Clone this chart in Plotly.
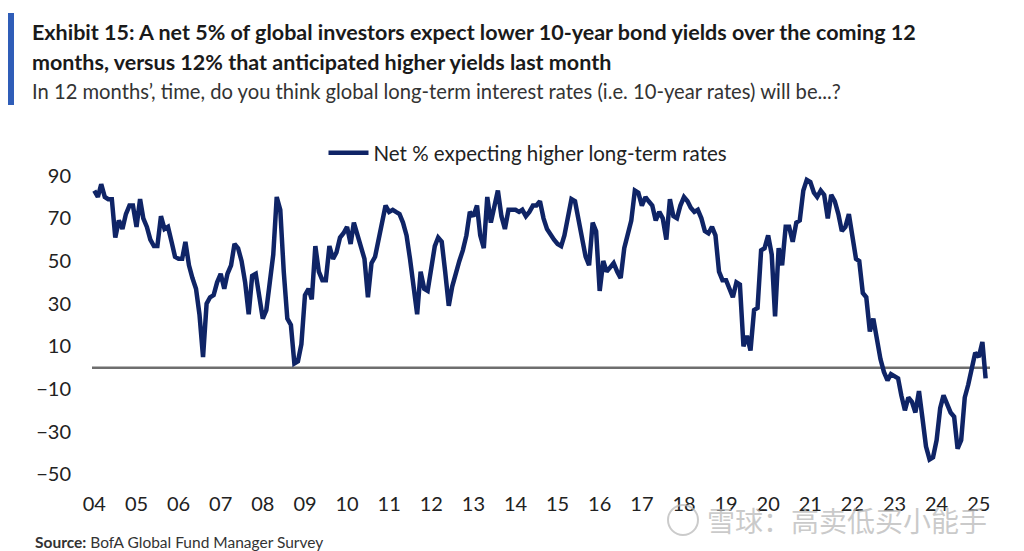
"""
    Net % of fund managers expecting higher long-term rates (BofA FMS).
"""

import pandas as pd
import plotly.graph_objects as go

# monthly readings, Jan 2004 .. Mar 2025
y2004 = [83, 80, 86, 80, 79, 79, 61, 69, 65, 72, 76, 76]
y2005 = [66, 79, 70, 66, 60, 57, 57, 71, 65, 66, 59, 52]
y2006 = [51, 51, 59, 48, 42, 37, 25, 5, 30, 33, 34, 40]
y2007 = [44, 37, 44, 48, 58, 56, 50, 40, 25, 43, 44, 32]
y2008 = [23, 27, 40, 53, 80, 74, 45, 23, 20, 2, 3, 11]
y2009 = [34, 37, 32, 57, 45, 41, 41, 57, 51, 54, 61, 63]
y2010 = [66, 58, 68, 62, 57, 51, 33, 49, 52, 60, 68, 76]
y2011 = [73, 74, 73, 72, 68, 62, 51, 38, 25, 45, 37, 36]
y2012 = [48, 57, 61, 59, 45, 29, 38, 45, 50, 55, 62, 73]
y2013 = [71, 76, 62, 56, 80, 68, 76, 83, 71, 65, 74, 74]
y2014 = [74, 73, 74, 71, 73, 76, 76, 78, 70, 65, 62, 60]
y2015 = [58, 57, 62, 70, 79, 78, 70, 61, 52, 48, 68, 64]
y2016 = [36, 50, 45, 47, 49, 45, 42, 56, 62, 69, 83, 82]
y2017 = [76, 80, 78, 76, 69, 73, 70, 60, 79, 71, 70, 76]
y2018 = [80, 78, 75, 73, 74, 70, 64, 63, 66, 62, 45, 41]
y2019 = [41, 37, 33, 40, 39, 10, 15, 8, 27, 28, 55, 56]
y2020 = [62, 53, 24, 56, 48, 66, 66, 59, 68, 69, 83, 88]
y2021 = [87, 82, 80, 83, 81, 70, 81, 78, 72, 64, 66, 72]
y2022 = [60, 51, 50, 35, 33, 17, 23, 12, 4, -2, -6, -3]
y2023 = [-4, -5, -13, -20, -14, -16, -21, -11, -24, -37, -43, -42]
y2024 = [-34, -19, -13, -17, -21, -23, -38, -34, -14, -8, -1, 7]
y2025 = [5, 12, -5]

year_ticks = list(range(2004, 2026))
year_labels = [f"{y % 100:02d}" for y in year_ticks]
y_ticks = [90, 70, 50, 30, 10, -10, -30, -50]

values = (y2004 + y2005 + y2006 + y2007 + y2008 + y2009 + y2010 + y2011
          + y2012 + y2013 + y2014 + y2015 + y2016 + y2017 + y2018 + y2019
          + y2020 + y2021 + y2022 + y2023 + y2024 + y2025)
dates = pd.date_range("2004-01-01", periods=len(values), freq="MS")

FONT = "Lato"
NAVY = "#0F2466"

# the page puts the figure 8px in from the top-left corner
OFF = 8
FW, FH = 1024 - OFF, 551 - OFF
L, R, T, B = 84, 34, 157, 66
W = FW - L - R
H = FH - T - B


def fx(px):
    # page pixel -> paper x
    return (px - OFF - L) / W


def fy(py):
    # page pixel -> paper y
    return (FH - B - (py - OFF)) / H


fig = go.Figure()
fig.add_trace(go.Scatter(
    x=dates, y=values, mode="lines",
    name="Net % expecting higher long-term rates",
    line=dict(color=NAVY, width=4.5),
))

fig.update_layout(
    width=FW, height=FH,
    margin=dict(l=L, r=R, t=T, b=B),
    paper_bgcolor="white", plot_bgcolor="white",
    font=dict(family=FONT, size=20, color="#222222"),
    showlegend=True,
    legend=dict(
        orientation="h", x=fx(528), xanchor="center",
        y=fy(153), yanchor="middle",
        font=dict(size=20.5, color="#222222"), itemwidth=40,
    ),
)

fig.update_xaxes(
    range=["2003-12-12", "2025-04-08"],
    tickvals=[pd.Timestamp(f"{y}-01-01") for y in year_ticks],
    ticktext=year_labels,
    showgrid=False, zeroline=False, showline=False, ticks="",
    tickfont=dict(size=20, color="#222222"),
    ticklabelstandoff=5,
)
fig.update_yaxes(
    range=[-55, 95],
    tickvals=y_ticks,
    showgrid=False, zeroline=False, showline=False, ticks="",
    tickfont=dict(size=20, color="#222222"),
    ticklabelstandoff=20,
)

# zero line
fig.add_shape(type="line", xref="paper", yref="y", x0=0, x1=1, y0=0, y1=0,
              line=dict(color="#6E6E6E", width=2.5), layer="below")

# blue bar next to the header
fig.add_shape(type="rect", xref="paper", yref="paper",
              x0=fx(6), x1=fx(14), y0=fy(105), y1=fy(13),
              fillcolor="#2F5DB8", line_width=0)


def text(px, py, s, size, color="#1A1A1A", family=FONT, anchor="left"):
    fig.add_annotation(
        xref="paper", yref="paper", x=fx(px), y=fy(py), text=s,
        showarrow=False, xanchor=anchor, yanchor="middle",
        font=dict(family=family, size=size, color=color),
    )


text(30, 32, "<b>Exhibit 15: A net 5% of global investors expect lower "
     "10-year bond yields over the coming 12</b>", 21.5)
text(30, 62, "<b>months, versus 12% that anticipated higher yields last "
     "month</b>", 21.5)
text(30, 91, "In 12 months’, time, do you think global long-term interest "
     "rates (i.e. 10-year rates) will be...?", 20.2, color="#333333")
text(33, 542, "<b>Source:</b> BofA Global Fund Manager Survey", 15.5,
     color="#333333")

# watermark
text(705, 520, "雪球：高卖低买小能手", 28, color="rgba(185,185,185,0.75)",
     family="Noto Sans CJK SC")
fig.add_shape(type="circle", xref="paper", yref="paper",
              x0=fx(668), x1=fx(698), y0=fy(535), y1=fy(505),
              line=dict(color="rgba(185,185,185,0.75)", width=2))

fig.write_html("out.html")
